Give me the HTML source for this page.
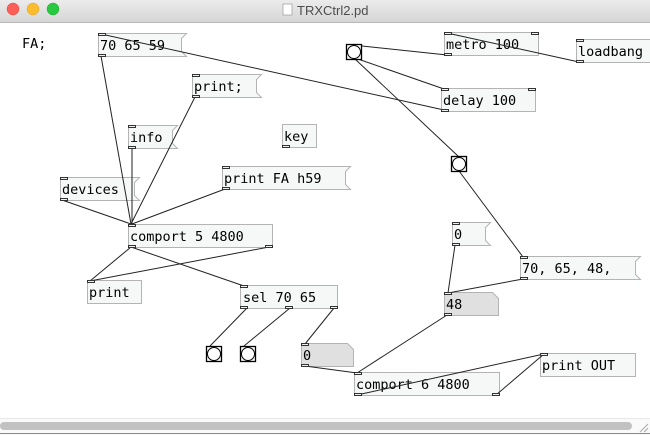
<!DOCTYPE html>
<html><head><meta charset="utf-8"><style>
html,body{margin:0;padding:0;width:650px;height:435px;overflow:hidden;background:#fff}
svg{display:block}
.t{font-family:"DejaVu Sans Mono","Liberation Mono",monospace;font-size:13.5px;fill:#000}
.b{fill:#f6f8f8;stroke:#b4b4b4;stroke-width:1}
.a{fill:#e0e0e0;stroke:#b4b4b4;stroke-width:1}
.c{stroke:#222;stroke-width:1;fill:none}
.io{fill:#f0f0f0;stroke:#333;stroke-width:1}
</style></head><body>
<svg width="650" height="435" xmlns="http://www.w3.org/2000/svg">
<defs><linearGradient id="tb" x1="0" y1="0" x2="0" y2="1"><stop offset="0" stop-color="#ececec"/><stop offset="1" stop-color="#d6d6d6"/></linearGradient></defs>
<rect x="0" y="0" width="650" height="22" fill="url(#tb)"/>
<line x1="0" y1="22.5" x2="650" y2="22.5" stroke="#b8b8b8"/>
<circle cx="13" cy="9" r="6" fill="#fc5f57" stroke="#e0443e" stroke-width="0.5"/>
<circle cx="33" cy="9" r="6" fill="#fdbc2e" stroke="#dea123" stroke-width="0.5"/>
<circle cx="53" cy="9" r="6" fill="#28c840" stroke="#1aab29" stroke-width="0.5"/>
<rect x="283" y="4" width="9" height="11" fill="#fff" stroke="#999" stroke-width="0.7"/>
<text x="297" y="15" font-family="Liberation Sans,sans-serif" font-size="13" fill="#4d4d4d">TRXCtrl2.pd</text>

<!-- comment -->
<text class="t" x="22" y="48">FA;</text>

<!-- messages -->
<path class="b" d="M98.5 33.5H186.5L181.5 38.5V51.5L186.5 56.5H98.5Z"/><text class="t" x="100" y="50">70 65 59</text>
<path class="b" d="M192.5 74.5H261.5L256.5 79.5V92.5L261.5 97.5H192.5Z"/><text class="t" x="194" y="91">print;</text>
<path class="b" d="M128.5 125.5H177.5L172.5 130.5V143.5L177.5 148.5H128.5Z"/><text class="t" x="130" y="142">info</text>
<path class="b" d="M60.5 177.5H139.5L134.5 182.5V195.5L139.5 200.5H60.5Z"/><text class="t" x="62" y="194">devices</text>
<path class="b" d="M222.5 166.5H350.5L345.5 171.5V184.5L350.5 189.5H222.5Z"/><text class="t" x="224" y="183">print FA h59</text>
<path class="b" d="M452.5 222.5H490.5L485.5 227.5V240.5L490.5 245.5H452.5Z"/><text class="t" x="454" y="239">0</text>
<path class="b" d="M520.5 256.5H640.5L635.5 261.5V274.5L640.5 279.5H520.5Z"/><text class="t" x="522" y="273">70, 65, 48,</text>

<!-- objects -->
<rect class="b" x="282.5" y="124.5" width="34" height="23"/><text class="t" x="284" y="141">key</text>
<rect class="b" x="128.5" y="224.5" width="144" height="23"/><text class="t" x="130" y="241">comport 5 4800</text>
<rect class="b" x="87.5" y="280.5" width="54" height="23"/><text class="t" x="89" y="297">print</text>
<rect class="b" x="240.5" y="285.5" width="97" height="23"/><text class="t" x="243" y="302">sel 70 65</text>
<rect class="b" x="354.5" y="372.5" width="145" height="23"/><text class="t" x="356" y="389">comport 6 4800</text>
<rect class="b" x="540.5" y="353.5" width="95" height="23"/><text class="t" x="542" y="370">print OUT</text>
<rect class="b" x="444.5" y="32.5" width="94" height="23"/><text class="t" x="446" y="49">metro 100</text>
<rect class="b" x="576.5" y="39.5" width="80" height="23"/><text class="t" x="578" y="56">loadbang</text>
<rect class="b" x="441.5" y="88.5" width="94" height="23"/><text class="t" x="443" y="105">delay 100</text>

<!-- atoms -->
<path class="a" d="M301.5 343.5H347.5L353.5 349.5V366.5H301.5Z"/><text class="t" x="303" y="360">0</text>
<path class="a" d="M444.5 292.5H492.5L498.5 298.5V315.5H444.5Z"/><text class="t" x="446" y="309">48</text>

<!-- connections -->
<g class="c">
<line x1="101" y1="56" x2="131" y2="224"/>
<line x1="444" y1="110" x2="101" y2="34"/>
<line x1="195" y1="97" x2="131" y2="224"/>
<line x1="132" y1="148" x2="132" y2="224"/>
<line x1="62" y1="200" x2="131" y2="224"/>
<line x1="225" y1="189" x2="132" y2="224"/>
<line x1="131" y1="247" x2="90" y2="281"/>
<line x1="269" y1="247" x2="90" y2="281"/>
<line x1="131" y1="247" x2="244" y2="286"/>
<line x1="247" y1="308" x2="210" y2="346"/>
<line x1="290" y1="308" x2="244" y2="346"/>
<line x1="334" y1="308" x2="305" y2="344"/>
<line x1="305" y1="366" x2="357" y2="373"/>
<line x1="447" y1="315" x2="357" y2="373"/>
<line x1="357" y1="395" x2="544" y2="354"/>
<line x1="496" y1="395" x2="544" y2="354"/>
<line x1="455" y1="245" x2="448" y2="293"/>
<line x1="523" y1="279" x2="448" y2="293"/>
<line x1="459" y1="171" x2="523" y2="257"/>
<line x1="355" y1="59" x2="459" y2="157"/>
<line x1="362" y1="46" x2="447" y2="55"/>
<line x1="355" y1="58" x2="444" y2="89"/>
<line x1="579" y1="62" x2="447" y2="33"/>
</g>

<!-- bangs -->
<g fill="#fff" stroke="#000">
<rect x="346.5" y="44.5" width="15" height="15" stroke-width="1.3"/><circle cx="354" cy="52" r="6.5"/>
<rect x="451.5" y="156.5" width="15" height="15" stroke-width="1.3"/><circle cx="459" cy="164" r="6.5"/>
<rect x="206.5" y="346.5" width="15" height="15" stroke-width="1.3"/><circle cx="214" cy="354" r="6.5"/>
<rect x="240.5" y="346.5" width="15" height="15" stroke-width="1.3"/><circle cx="248" cy="354" r="6.5"/>
</g>

<!-- inlets/outlets -->
<g class="io">
<rect x="98.5" y="33.5" width="7" height="2"/><rect x="98.5" y="54.5" width="7" height="2"/>
<rect x="192.5" y="74.5" width="7" height="2"/><rect x="192.5" y="95.5" width="7" height="2"/>
<rect x="128.5" y="125.5" width="7" height="2"/><rect x="128.5" y="146.5" width="7" height="2"/>
<rect x="60.5" y="177.5" width="7" height="2"/><rect x="60.5" y="198.5" width="7" height="2"/>
<rect x="222.5" y="166.5" width="7" height="2"/><rect x="222.5" y="187.5" width="7" height="2"/>
<rect x="282.5" y="145.5" width="7" height="2"/>
<rect x="128.5" y="224.5" width="7" height="2"/><rect x="128.5" y="245.5" width="7" height="2"/><rect x="265.5" y="245.5" width="7" height="2"/>
<rect x="87.5" y="280.5" width="7" height="2"/>
<rect x="240.5" y="285.5" width="7" height="2"/><rect x="240.5" y="306.5" width="7" height="2"/><rect x="285.5" y="306.5" width="7" height="2"/><rect x="330.5" y="306.5" width="7" height="2"/>
<rect x="301.5" y="343.5" width="7" height="2"/><rect x="301.5" y="364.5" width="7" height="2"/>
<rect x="354.5" y="372.5" width="7" height="2"/><rect x="354.5" y="393.5" width="7" height="2"/><rect x="492.5" y="393.5" width="7" height="2"/>
<rect x="540.5" y="353.5" width="7" height="2"/>
<rect x="444.5" y="292.5" width="7" height="2"/><rect x="444.5" y="313.5" width="7" height="2"/>
<rect x="452.5" y="222.5" width="7" height="2"/><rect x="452.5" y="243.5" width="7" height="2"/>
<rect x="520.5" y="256.5" width="7" height="2"/><rect x="520.5" y="277.5" width="7" height="2"/>
<rect x="444.5" y="32.5" width="7" height="2"/><rect x="531.5" y="32.5" width="7" height="2"/><rect x="444.5" y="53.5" width="7" height="2"/>
<rect x="576.5" y="39.5" width="7" height="2"/><rect x="576.5" y="60.5" width="7" height="2"/>
<rect x="441.5" y="88.5" width="7" height="2"/><rect x="528.5" y="88.5" width="7" height="2"/><rect x="441.5" y="109.5" width="7" height="2"/>
</g>

<!-- scrollbar -->
<rect x="0" y="418" width="650" height="17" fill="#fafafa"/>
<line x1="0" y1="418.5" x2="650" y2="418.5" stroke="#e8e8e8"/>
<rect x="0" y="422" width="632" height="8" rx="4" fill="#c2c2c2"/>
<line x1="0" y1="433.5" x2="650" y2="433.5" stroke="#8a8a8a"/>
<line x1="640" y1="432" x2="648" y2="424" stroke="#aaa"/>
<line x1="644" y1="432" x2="648" y2="428" stroke="#aaa"/>
</svg>
</body></html>
